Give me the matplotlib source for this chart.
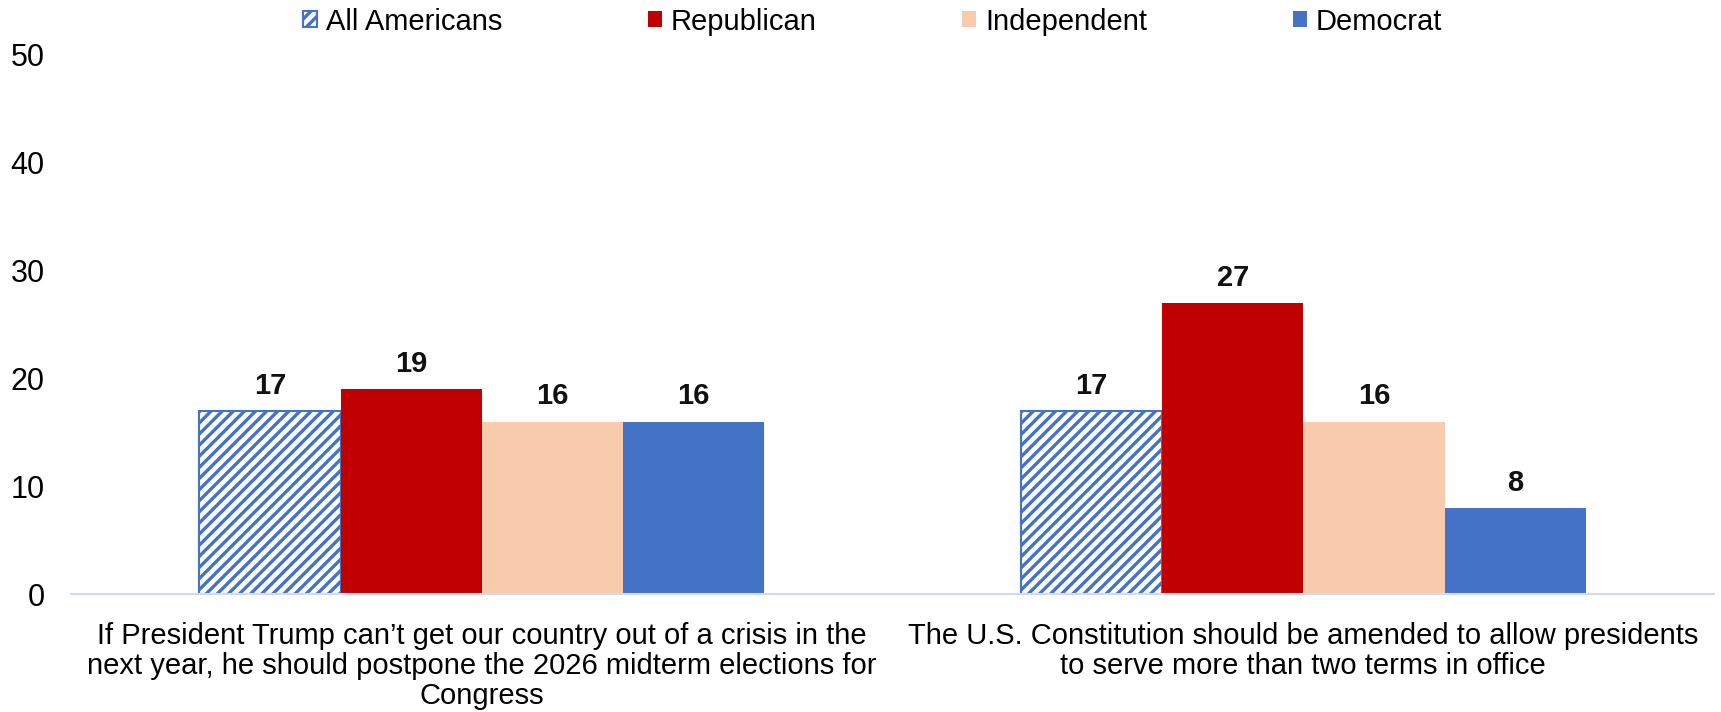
import matplotlib.pyplot as plt
import numpy as np

plt.rcParams['font.family'] = ['Liberation Sans', 'DejaVu Sans']
plt.rcParams['hatch.linewidth'] = 2.4

categories = [
    "If President Trump can\u2019t get our country out of a crisis in the\nnext year, he should postpone the 2026 midterm elections for\nCongress",
    "The U.S. Constitution should be amended to allow presidents\nto serve more than two terms in office",
]
series = ["All Americans", "Republican", "Independent", "Democrat"]
values = [
    [17, 17],
    [19, 27],
    [16, 16],
    [16, 8],
]
colors = ["white", "#C00000", "#F8CBAD", "#4472C4"]

fig = plt.figure(figsize=(17.21, 7.12), dpi=100)
ax = fig.add_axes([0.0413, 0.1657, 0.9547, 0.7571])

x = np.arange(len(categories))
w = 0.172
for i, name in enumerate(series):
    pos = x + (i - 1.5) * w
    if i == 0:
        bars = ax.bar(pos, values[i], w, color="white", edgecolor="#4472C4",
                      hatch="///", linewidth=1.5, label=name)
    else:
        bars = ax.bar(pos, values[i], w, color=colors[i], label=name)
    for b, v in zip(bars, values[i]):
        ax.annotate(str(v), (b.get_x() + b.get_width() / 2, v),
                    xytext=(0, 8), textcoords="offset points",
                    ha="center", va="bottom", fontsize=21,
                    fontweight="bold", color="#111111")

ax.set_xlim(-0.5, 1.5)
ax.set_ylim(0, 50)
ax.set_yticks(range(0, 51, 10))
ax.set_xticks(x)
ax.set_xticklabels(categories, fontsize=21, linespacing=1.1)
ax.tick_params(axis="y", length=0, labelsize=22, pad=19)
ax.tick_params(axis="x", length=0, pad=20)
for s in ["top", "right", "left"]:
    ax.spines[s].set_visible(False)
ax.spines["bottom"].set_color("#D0DCE8")
ax.spines["bottom"].set_linewidth(1.5)

fig.legend(loc="upper center", bbox_to_anchor=(0.507, 1.026), ncol=4,
           frameon=False, fontsize=21, handlelength=0.48, handleheight=0.48,
           handletextpad=0.3, columnspacing=5.0)

fig.savefig("out.png", dpi=100)
